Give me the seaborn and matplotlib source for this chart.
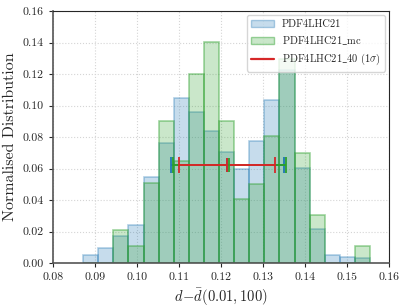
import numpy as np
import pandas as pd
import seaborn as sns
import matplotlib.pyplot as plt
from matplotlib.colors import to_rgba
from matplotlib.lines import Line2D

# histogram bins (shared by both samples)
bin_lo = 0.0872
bin_width = 0.003593
n_bins = 19

# normalised bin heights
pdf4lhc21 = [0.005, 0.0094, 0.0171, 0.0239, 0.0549, 0.0761, 0.1048, 0.0961, 0.0839,
             0.0704, 0.0594, 0.0773, 0.1036, 0.1224, 0.0602, 0.0216, 0.005, 0.004, 0.003]
pdf4lhc21_mc = [0.0, 0.0, 0.0208, 0.0107, 0.0507, 0.0905, 0.0645, 0.1203, 0.1401,
                0.0905, 0.0406, 0.0505, 0.0805, 0.1297, 0.070, 0.0306, 0.0, 0.0, 0.0105]

# 1 sigma bands: (lower, central, upper)
band_y = 0.062
band_21 = (0.1080, 0.1215, 0.1350)
band_mc = (0.1085, 0.1219, 0.1354)
band_40 = (0.1101, 0.1214, 0.1329)

labels = ['PDF4LHC21', r'PDF4LHC21$\_$mc', r'PDF4LHC21$\_$40 (1$\sigma$)']

sns.set_style('ticks')
plt.rcParams['font.family'] = 'serif'
plt.rcParams['font.serif'] = ['cmr10', 'DejaVu Serif']
plt.rcParams['mathtext.fontset'] = 'cm'
plt.rcParams['axes.unicode_minus'] = False
plt.rcParams['axes.formatter.use_mathtext'] = True

edges = bin_lo + bin_width * np.arange(n_bins + 1)
centres = 0.5 * (edges[:-1] + edges[1:])
df = pd.DataFrame({'x': centres, 'w21': pdf4lhc21, 'wmc': pdf4lhc21_mc})

fig = plt.figure(figsize=(4.07, 3.08), dpi=100)
ax = fig.add_axes([0.130, 0.146, 0.826, 0.818])

sns.histplot(data=df, x='x', weights='w21', bins=n_bins, binrange=(edges[0], edges[-1]),
             color='tab:blue', alpha=0.25, edgecolor=to_rgba('tab:blue', 0.35),
             linewidth=1.2, ax=ax)
sns.histplot(data=df, x='x', weights='wmc', bins=n_bins, binrange=(edges[0], edges[-1]),
             color='tab:green', alpha=0.25, edgecolor=to_rgba('tab:green', 0.45),
             linewidth=1.2, ax=ax)

for band, col in [(band_21, 'tab:blue'), (band_mc, 'tab:green'), (band_40, 'tab:red')]:
    lo, c, hi = band
    ax.errorbar([c], [band_y], xerr=[[c - lo], [hi - c]], color=col, marker='|',
                markersize=10, mew=1.3, capsize=5.5, capthick=1.3, lw=1.4)

ax.set_xlim(0.08, 0.16)
ax.set_ylim(0, 0.16)
ax.set_xticks(np.arange(0.08, 0.1601, 0.01))
ax.set_yticks(np.arange(0, 0.1601, 0.02))
ax.xaxis.set_major_formatter(plt.FormatStrFormatter('%.2f'))
ax.yaxis.set_major_formatter(plt.FormatStrFormatter('%.2f'))
ax.tick_params(labelsize=8.5, length=3)
ax.grid(True, ls=':', color='#d5d5d5', lw=0.8)
ax.set_axisbelow(True)
for s in ['left', 'bottom']:
    ax.spines[s].set_linewidth(1.2)
    ax.spines[s].set_color('#555555')
ax.set_xlabel(r'$d\!-\!\bar{d}(0.01,100)$', fontsize=10.5)
ax.set_ylabel('Normalised Distribution', fontsize=11.5)

handles = [plt.Rectangle((0, 0), 1, 1, fc=to_rgba('tab:blue', 0.25), ec=to_rgba('tab:blue', 0.35)),
           plt.Rectangle((0, 0), 1, 1, fc=to_rgba('tab:green', 0.25), ec=to_rgba('tab:green', 0.45)),
           Line2D([], [], color='tab:red', lw=1.6)]
ax.legend(handles, labels, loc='upper right', fontsize=7.5, frameon=True,
          handlelength=2.2, borderaxespad=0.4)

fig.savefig('out.png', dpi=100)
